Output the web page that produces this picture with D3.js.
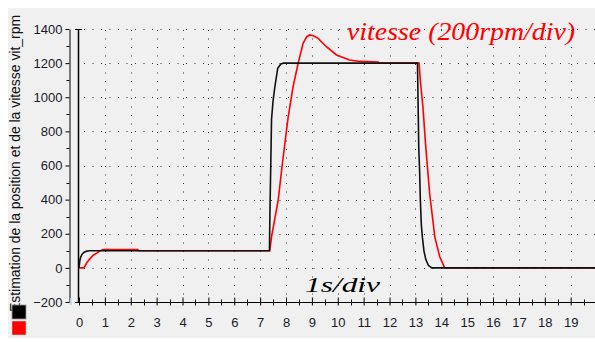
<!DOCTYPE html>
<html><head><meta charset="utf-8">
<script src="https://cdn.jsdelivr.net/npm/d3@7"></script>
<style>body{margin:0;background:#fff}svg{display:block}</style>
</head><body><svg id="c" width="595" height="342"></svg>
<script>
// ---- data ----
const xTickLabels = [0,1,2,3,4,5,6,7,8,9,10,11,12,13,14,15,16,17,18,19];
const yTickLabels = [-200,0,200,400,600,800,1000,1200,1400];
const yLabel = "Estimation de la position et de la vitesse vit_rpm";
const blackT = [0,0.03,0.06,0.12,0.2,0.3,0.4,7.36,7.38,7.41,7.44,7.5,7.57,7.68,7.8,7.9,13.08,13.1,13.13,13.16,13.19,13.23,13.27,13.33,13.4,13.5,13.63,20];
const blackV = [0,40,62,80,92,98,100,100,340,600,870,980,1062,1170,1195,1200,1200,1000,700,580,400,250,180,100,50,15,0,0];
const redT = [0,0.19,0.3,0.4,0.55,0.7,0.8,0.92,2.27,2.3,7.37,7.45,7.7,7.85,8.08,8.27,8.47,8.66,8.8,8.92,9.05,9.24,9.56,9.95,10.46,10.85,11.56,11.6,13.14,13.2,13.29,13.39,13.55,13.75,13.94,14.13,20];
const redV = [0,0,30,50,74,88,98,108,108,100,100,190,400,600,880,1060,1200,1316,1355,1365,1360,1345,1296,1248,1218,1210,1207,1200,1200,1080,944,730,436,182,65,0,0];
const annotSpeed = "vitesse (200rpm/div)";
const annotTime = "1s/div";

const svg = d3.select("#c");
svg.append("rect").attr("x",8).attr("y",8).attr("width",587).attr("height",330).attr("fill","#f0f0f0");

const x = d3.scaleLinear().domain([0,19.94]).range([79,595]);
const y = d3.scaleLinear().domain([-200,1400]).range([302,29]);

// grid
const g = svg.append("g").attr("stroke","#333").attr("stroke-width",1).attr("stroke-dasharray","1,7.5");
g.selectAll("line.h").data(yTickLabels.filter(v=>v>-200)).enter().append("line")
  .attr("x1",84).attr("x2",595).attr("y1",d=>Math.round(y(d))+0.5).attr("y2",d=>Math.round(y(d))+0.5);
g.selectAll("line.v").data(xTickLabels.filter(v=>v>0)).enter().append("line")
  .attr("x1",d=>Math.round(x(d))+0.5).attr("x2",d=>Math.round(x(d))+0.5).attr("y1",30).attr("y2",300);

// y axis
const yAx = svg.append("g").attr("transform","translate(69.5,0)")
  .call(d3.axisLeft(y).tickValues(yTickLabels).tickFormat(d3.format("d")).tickSize(4).tickSizeOuter(0).tickPadding(3));
yAx.selectAll("text").attr("font-family","Liberation Sans, Arial, sans-serif").attr("font-size",13).attr("fill","#1a1a2a");
yAx.selectAll("line,path").attr("stroke","#000");
yAx.selectAll("line.minor").data(d3.range(-100,1400,200)).enter().append("line").attr("class","minor")
  .attr("x1",-3).attr("x2",0).attr("y1",d=>Math.round(y(d))+0.5).attr("y2",d=>Math.round(y(d))+0.5).attr("stroke","#000");

// x axis
const xAx = svg.append("g").attr("transform","translate(0,302.5)")
  .call(d3.axisBottom(x).tickValues(xTickLabels).tickSize(3).tickSizeOuter(0).tickPadding(12));
xAx.select("path.domain").remove();
xAx.append("line").attr("x1",75).attr("x2",595).attr("stroke","#000");
xAx.selectAll(".tick line").attr("y1",-5).attr("y2",3).attr("stroke","#000");
xAx.selectAll("text").attr("font-family","Liberation Sans, Arial, sans-serif").attr("font-size",13).attr("fill","#1a1a2a");
xAx.selectAll("line.minor").data(d3.range(0.5,19.6,1)).enter().append("line").attr("class","minor")
  .attr("x1",d=>Math.round(x(d))+0.5).attr("x2",d=>Math.round(x(d))+0.5).attr("y1",-3).attr("y2",3).attr("stroke","#000");

// cursor line at t=0
svg.append("line").attr("x1",Math.round(x(0))-0.5).attr("x2",Math.round(x(0))-0.5).attr("y1",y(1400)).attr("y2",303).attr("stroke","#000").attr("stroke-width",1.5);
svg.append("line").attr("x1",x(0)-4).attr("x2",x(0)+3).attr("y1",y(1400)+0.5).attr("y2",y(1400)+0.5).attr("stroke","#000");
svg.append("rect").attr("x",70).attr("y",298).attr("width",1.5).attr("height",7).attr("fill","#a8d4f0");

// curves
svg.append("clipPath").attr("id","pc").append("rect").attr("x",79).attr("y",20).attr("width",516).attr("height",290);
const line = d3.line().x(d=>x(d[0])).y(d=>y(d[1]));
const plot = svg.append("g").attr("clip-path","url(#pc)");
plot.append("path").datum(redT.map((t,i)=>[t,redV[i]])).attr("d",line)
  .attr("fill","none").attr("stroke","#ff0000").attr("stroke-width",1.6);
plot.append("path").datum(blackT.map((t,i)=>[t,blackV[i]])).attr("d",line)
  .attr("fill","none").attr("stroke","#111").attr("stroke-width",1.6);

// y label
svg.append("text").attr("transform","translate(19.5,312) rotate(-90)")
  .attr("font-family","Liberation Sans, Arial, sans-serif").attr("font-size",14).attr("fill","#111")
  .attr("textLength",297).attr("lengthAdjust","spacingAndGlyphs").text(yLabel);

// legend squares
svg.append("rect").attr("x",12).attr("y",305).attr("width",14).attr("height",14).attr("fill","#000").attr("stroke","#999").attr("stroke-width",0.8);
svg.append("rect").attr("x",12).attr("y",321).attr("width",14).attr("height",14).attr("fill","#ff0000").attr("stroke","#ddd").attr("stroke-width",0.5);

// annotations
svg.append("text").attr("x",347).attr("y",40).attr("font-family","Liberation Serif, Times New Roman, serif")
  .attr("font-style","italic").attr("font-size",25).attr("fill","#ff0000")
  .attr("textLength",228).attr("lengthAdjust","spacingAndGlyphs").text(annotSpeed);
svg.append("text").attr("x",305).attr("y",291.5).attr("font-family","Liberation Serif, Times New Roman, serif")
  .attr("font-style","italic").attr("font-size",21).attr("fill","#000")
  .attr("textLength",75).attr("lengthAdjust","spacingAndGlyphs").text(annotTime);
</script></body></html>
